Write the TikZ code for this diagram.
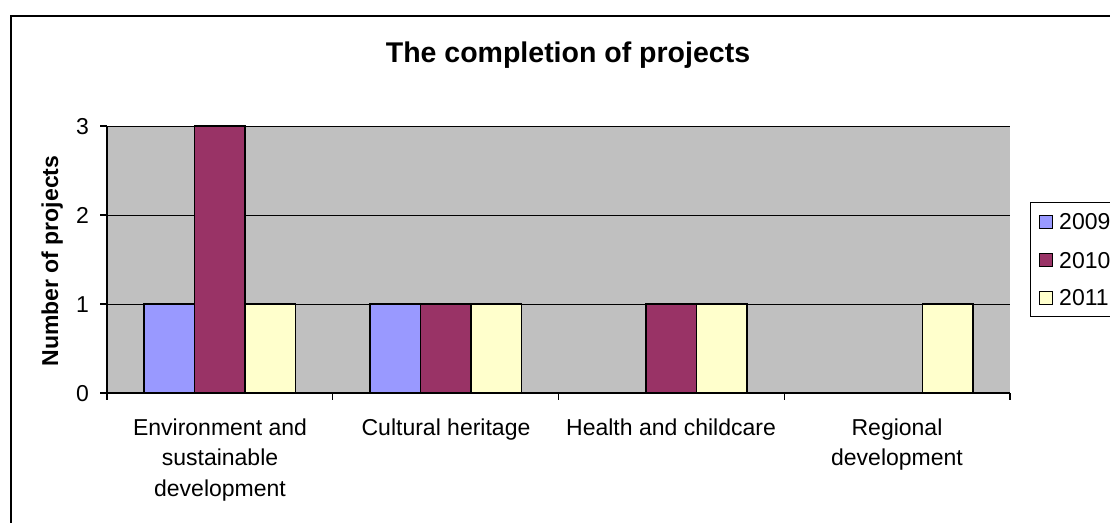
\documentclass[tikz,border=0pt]{standalone}
\usepackage{fontspec}
\setmainfont{Liberation Sans}
\definecolor{cblue}{HTML}{9999FF}
\definecolor{cmaroon}{HTML}{993366}
\definecolor{cyellow}{HTML}{FFFFCC}
\definecolor{cgray}{HTML}{C0C0C0}
\begin{document}
\begin{tikzpicture}[x=1pt,y=-1pt,
  bar/.style={draw=black,line width=1.6pt},
  grid line/.style={draw=black,line width=1pt},
  axis line/.style={draw=black,line width=1.2pt},
  catlabel/.style={anchor=base,align=center,inner sep=0pt,font=\fontsize{23}{30.5}\selectfont},
  ticklabel/.style={anchor=base east,inner sep=0pt,font=\fontsize{23}{28}\selectfont},
  legtext/.style={anchor=base west,inner sep=0pt,font=\fontsize{23}{28}\selectfont},
  legsq/.style={draw=black,line width=1pt}]
\useasboundingbox (0,0) rectangle (1110,522);
\clip (0,0) rectangle (1110,522);
% outer frame
\draw[line width=2pt] (11,16) rectangle (1130,540);
% title
\node[anchor=base,inner sep=0pt,font=\fontsize{28.5}{32}\selectfont\bfseries] (title) at (568,62) {The completion of projects};
% plot area
\fill[cgray] (107,126) rectangle (1010,393);
\foreach \v/\yy in {1/304,2/215,3/126} {
  \draw[grid line] (107,\yy) -- (1010,\yy);
}
% category 1
\draw[bar,fill=cblue]   (144.1,304) rectangle (194.6,393);
\draw[bar,fill=cmaroon] (194.6,126) rectangle (245.1,393);
\draw[bar,fill=cyellow] (245.1,304) rectangle (295.6,393);
% category 2
\draw[bar,fill=cblue]   (369.9,304) rectangle (420.4,393);
\draw[bar,fill=cmaroon] (420.4,304) rectangle (470.9,393);
\draw[bar,fill=cyellow] (470.9,304) rectangle (521.4,393);
% category 3
\draw[bar,fill=cmaroon] (646.1,304) rectangle (696.6,393);
\draw[bar,fill=cyellow] (696.6,304) rectangle (747.1,393);
% category 4
\draw[bar,fill=cyellow] (922.4,304) rectangle (972.9,393);
% axes
\draw[axis line] (107,126) -- (107,393) -- (1010,393);
\foreach \yy in {126,215,304,393} { \draw[axis line] (100,\yy) -- (107,\yy); }
\foreach \xx in {107,332.75,558.5,784.25,1010} { \draw[axis line] (\xx,393) -- (\xx,400); }
% tick labels
\node[ticklabel] (y0) at (89,401.2) {0};
\node[ticklabel] (y1) at (89,312.2) {1};
\node[ticklabel] (y2) at (89,223.2) {2};
\node[ticklabel] (y3) at (89,134.2) {3};
% axis title
\node[anchor=base,inner sep=0pt,rotate=90,font=\fontsize{23}{28}\selectfont\bfseries] (ytitle) at (58,261) {Number of projects};
% category labels (base anchor = baseline of last line)
\node[catlabel] (c1) at (220,496) {Environment and\\sustainable\\development};
\node[catlabel] (c2) at (446,435) {Cultural heritage};
\node[catlabel] (c3) at (671,435) {Health and childcare};
\node[catlabel] (c4) at (897,465.5) {Regional\\development};
% legend
\draw[line width=1pt,fill=white] (1030,202) rectangle (1130,316);
\draw[legsq,fill=cblue]   (1039,215) rectangle (1052,228);
\draw[legsq,fill=cmaroon] (1039,253) rectangle (1052,266);
\draw[legsq,fill=cyellow] (1039,291) rectangle (1052,304);
\node[legtext] (l1) at (1059,229) {2009};
\node[legtext] (l2) at (1059,268) {2010};
\node[legtext] (l3) at (1059,305) {2011};
\end{tikzpicture}
\end{document}
